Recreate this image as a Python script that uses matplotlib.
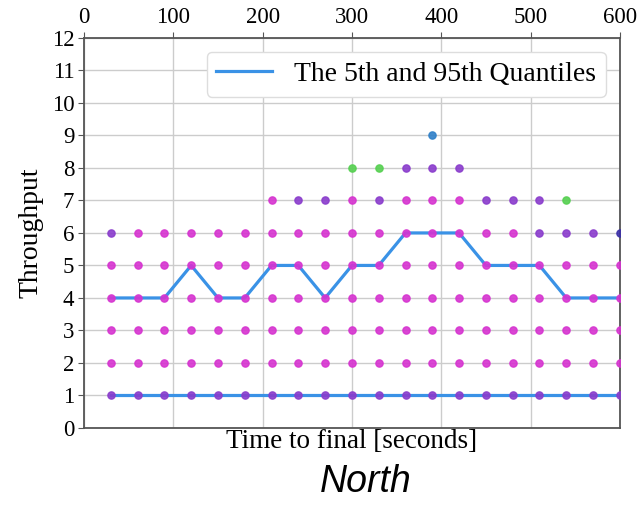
import numpy as np
import matplotlib
matplotlib.use('Agg')
import matplotlib.pyplot as plt

# time to final, seconds
times = [30, 60, 90, 120, 150, 180, 210, 240, 270, 300,
         330, 360, 390, 420, 450, 480, 510, 540, 570, 600]

# 5th / 95th quantiles of throughput
q05 = [1] * 20
q95 = [4, 4, 4, 5, 4, 4, 5, 5, 4, 5, 5, 6, 6, 6, 5, 5, 5, 4, 4, 4]

# observed throughput levels, one string per level, one char per time
# m=magenta p=purple g=green b=blue d=dark blue .=none
levels = [1, 2, 3, 4, 5, 6, 7, 8, 9]
level_colors = [
    'pppppppppppppppppppp',
    'mmmmmmmmmmmmmmmmmmmm',
    'mmmmmmmmmmmmmmmmmmmm',
    'mmmmmmmmmmmmmmmmmmmm',
    'mmmmmmmmmmmmmmmmmmmm',
    'pmmmmmmmmmmmmmmmpppd',
    '......mppmpmmmpppg..',
    '.........ggppp......',
    '............b.......',
]
cmap = {'m': '#d633d0', 'p': '#8a3ccc', 'g': '#55d050', 'b': '#2f80c8', 'd': '#3b2fa8'}

plt.rcParams['font.family'] = ['Liberation Serif', 'DejaVu Serif']

fig = plt.figure(figsize=(6.39, 5.05), dpi=100)
ax = fig.add_axes([0.1315, 0.1525, 0.8385, 0.7725])

ax.plot(times, q05, color='#3a92e6', lw=2.3, zorder=2,
        label='The 5th and 95th Quantiles')
ax.plot(times, q95, color='#3a92e6', lw=2.3, zorder=2)

for lev, row in zip(levels, level_colors):
    for t, c in zip(times, row):
        if c == '.':
            continue
        ax.plot(t, lev, 'o', color=cmap[c], ms=5.2, alpha=0.9, zorder=3)

ax.set_xlim(0, 600)
ax.set_ylim(0, 12)
ax.set_xticks(range(0, 601, 100))
ax.set_yticks(range(0, 13))
ax.xaxis.tick_top()
ax.tick_params(labelsize=16.5, color='#555555', length=4, pad=3)
ax.grid(True, color='#cccccc', lw=1)
for s in ax.spines.values():
    s.set_color('#555555')
    s.set_linewidth(1.3)

ax.set_xlabel('Time to final [seconds]', fontsize=19.5, labelpad=1)
ax.set_ylabel('Throughput', fontsize=20, labelpad=6)
ax.legend(loc='upper right', fontsize=20, borderaxespad=0.5,
          handlelength=2.0, borderpad=0.35, framealpha=1, edgecolor='#dddddd')

fig.text(0.572, 0.025, 'North', fontsize=27, style='italic',
         family='Liberation Sans', ha='center')

plt.savefig('out.png', dpi=100)
